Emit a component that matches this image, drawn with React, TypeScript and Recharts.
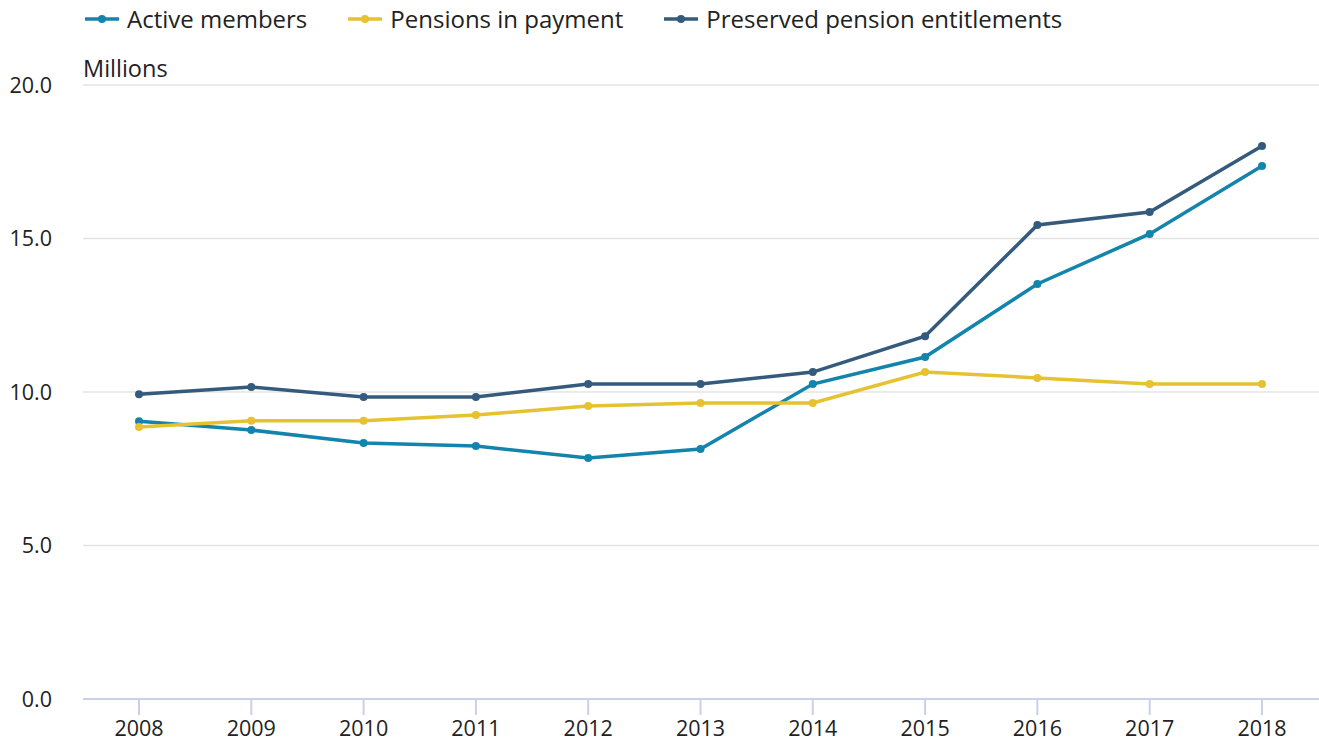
import React from 'react';
import { LineChart, Line, XAxis, YAxis, CartesianGrid } from 'recharts';

const years = ['2008', '2009', '2010', '2011', '2012', '2013', '2014', '2015', '2016', '2017', '2018'];
const activeMembers = [9.05, 8.76, 8.34, 8.24, 7.85, 8.14, 10.26, 11.14, 13.52, 15.15, 17.36];
const pensionsInPayment = [8.86, 9.06, 9.06, 9.25, 9.54, 9.64, 9.64, 10.65, 10.46, 10.26, 10.26];
const preservedEntitlements = [9.93, 10.16, 9.84, 9.84, 10.26, 10.26, 10.65, 11.82, 15.44, 15.86, 18.01];
const yTicks = [0, 5, 10, 15, 20];

const seriesNames = ['Active members', 'Pensions in payment', 'Preserved pension entitlements'];
const seriesColors = ['#1384ac', '#e6c230', '#345b7d'];

const data = years.map((y, i) => ({
  year: y,
  active: activeMembers[i],
  pensions: pensionsInPayment[i],
  preserved: preservedEntitlements[i],
}));

const FONT = '"Open Sans", "Noto Sans", sans-serif';

const LegendBox = () => (
  <div
    style={{
      position: 'absolute', left: 85, top: 4, display: 'flex', fontFamily: FONT, fontSize: 24,
      color: '#222', alignItems: 'center', lineHeight: '30px', whiteSpace: 'nowrap',
    }}
  >
    {seriesNames.map((n, i) => (
      <div key={n} style={{ display: 'flex', alignItems: 'center', marginRight: 41 }}>
        <svg width={34} height={10} style={{ marginRight: 8 }}>
          <line x1={0} y1={5} x2={34} y2={5} stroke={seriesColors[i]} strokeWidth={3.5} />
          <circle cx={17} cy={5} r={4} fill={seriesColors[i]} />
        </svg>
        <span>{n}</span>
      </div>
    ))}
  </div>
);

export default function App() {
  return (
    <div style={{ position: 'absolute', left: 0, top: 0, width: 1319, height: 742, background: '#fff' }}>
      <LineChart width={1319} height={742} data={data} margin={{ top: 85, right: 0, bottom: 0, left: 0 }}>
        <CartesianGrid vertical={false} stroke="#e3e3e3" strokeWidth={1.5} />
        <XAxis
          dataKey="year"
          height={43}
          padding={{ left: 56, right: 57 }}
          stroke="#c9d1e8"
          strokeWidth={2}
          tickSize={16}
          tickMargin={6}
          tick={{ fill: '#222', fontSize: 21.5, fontFamily: FONT }}
        />
        <YAxis
          width={83}
          domain={[0, 20]}
          ticks={yTicks}
          axisLine={false}
          tickLine={false}
          tickSize={0}
          tickMargin={31}
          tickFormatter={(v: number) => v.toFixed(1)}
          tick={{ fill: '#222', fontSize: 21.5, fontFamily: FONT }}
          label={{
            content: (props: any) => {
              const vb = props.viewBox || { x: 0, y: 85, width: 83 };
              return (
                <text x={vb.x + vb.width} y={vb.y - 8} fill="#222" fontSize={23.5} fontFamily={FONT}>
                  Millions
                </text>
              );
            },
          }}
        />
        <Line dataKey="active" name={seriesNames[0]} stroke={seriesColors[0]} strokeWidth={3.5}
          dot={{ r: 4, fill: seriesColors[0], stroke: 'none' }} isAnimationActive={false} />
        <Line dataKey="pensions" name={seriesNames[1]} stroke={seriesColors[1]} strokeWidth={3.5}
          dot={{ r: 4, fill: seriesColors[1], stroke: 'none' }} isAnimationActive={false} />
        <Line dataKey="preserved" name={seriesNames[2]} stroke={seriesColors[2]} strokeWidth={3.5}
          dot={{ r: 4, fill: seriesColors[2], stroke: 'none' }} isAnimationActive={false} />
      </LineChart>
      <LegendBox />
    </div>
  );
}
